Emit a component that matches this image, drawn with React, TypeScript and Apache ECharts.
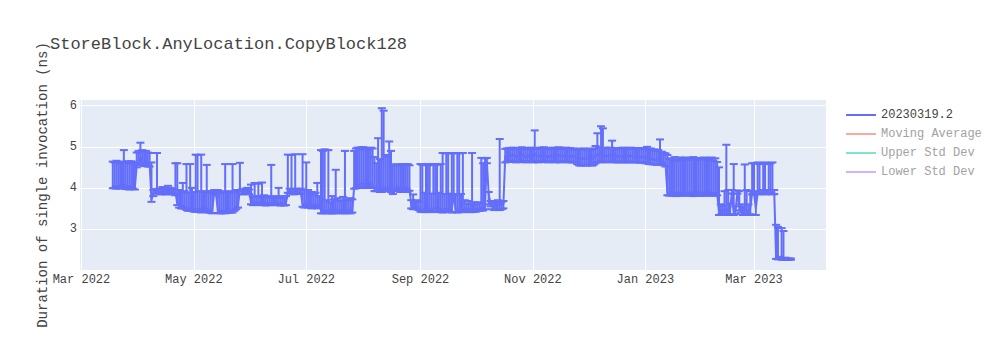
import { useEffect, useRef } from "react";
import * as echarts from "echarts";

const FONT = "'Courier New', 'Liberation Mono', monospace";
const BLUE = "#636EFA";

const dates = [
  "2022-03-18","2022-03-19","2022-03-20","2022-03-21","2022-03-22","2022-03-23","2022-03-24","2022-03-25","2022-03-26","2022-03-27","2022-03-28","2022-03-29","2022-03-30","2022-03-31",
  "2022-04-01","2022-04-02","2022-04-03","2022-04-04","2022-04-05","2022-04-06","2022-04-07","2022-04-08","2022-04-09","2022-04-10",
  "2022-04-11","2022-04-12","2022-04-13","2022-04-14","2022-04-15","2022-04-16","2022-04-17","2022-04-18","2022-04-19","2022-04-20",
  "2022-04-21","2022-04-22","2022-04-23","2022-04-24","2022-04-25","2022-04-26","2022-04-27","2022-04-28","2022-04-29","2022-04-30",
  "2022-05-01","2022-05-02","2022-05-03","2022-05-04","2022-05-05","2022-05-06","2022-05-07","2022-05-08","2022-05-09","2022-05-10",
  "2022-05-11","2022-05-12","2022-05-13","2022-05-14","2022-05-15","2022-05-16","2022-05-17","2022-05-18","2022-05-19","2022-05-20",
  "2022-05-21","2022-05-22","2022-05-23","2022-05-24","2022-05-25","2022-05-26","2022-05-27","2022-05-28","2022-05-29","2022-05-30","2022-05-31",
  "2022-06-01","2022-06-02","2022-06-03","2022-06-04","2022-06-05","2022-06-06","2022-06-07","2022-06-08","2022-06-09","2022-06-10",
  "2022-06-11","2022-06-12","2022-06-13","2022-06-14","2022-06-15","2022-06-16","2022-06-17","2022-06-18","2022-06-19","2022-06-20",
  "2022-06-21","2022-06-22","2022-06-23","2022-06-24","2022-06-25","2022-06-26","2022-06-27","2022-06-28","2022-06-29","2022-06-30",
  "2022-07-01","2022-07-02","2022-07-03","2022-07-04","2022-07-05","2022-07-06","2022-07-07","2022-07-08","2022-07-09","2022-07-10",
  "2022-07-11","2022-07-12","2022-07-13","2022-07-14","2022-07-15","2022-07-16","2022-07-17","2022-07-18","2022-07-19","2022-07-20",
  "2022-07-21","2022-07-22","2022-07-23","2022-07-24","2022-07-25","2022-07-26","2022-07-27","2022-07-28","2022-07-29","2022-07-30","2022-07-31",
  "2022-08-01","2022-08-02","2022-08-03","2022-08-04","2022-08-05","2022-08-06","2022-08-07","2022-08-08","2022-08-09","2022-08-10",
  "2022-08-11","2022-08-12","2022-08-13","2022-08-14","2022-08-15","2022-08-16","2022-08-17","2022-08-18","2022-08-19","2022-08-20",
  "2022-08-21","2022-08-22","2022-08-23","2022-08-24","2022-08-25","2022-08-26","2022-08-27","2022-08-28","2022-08-29","2022-08-30","2022-08-31",
  "2022-09-01","2022-09-02","2022-09-03","2022-09-04","2022-09-05","2022-09-06","2022-09-07","2022-09-08","2022-09-09","2022-09-10",
  "2022-09-11","2022-09-12","2022-09-13","2022-09-14","2022-09-15","2022-09-16","2022-09-17","2022-09-18","2022-09-19","2022-09-20",
  "2022-09-21","2022-09-22","2022-09-23","2022-09-24","2022-09-25","2022-09-26","2022-09-27","2022-09-28","2022-09-29","2022-09-30",
  "2022-10-01","2022-10-02","2022-10-03","2022-10-04","2022-10-05","2022-10-06","2022-10-07","2022-10-08","2022-10-09","2022-10-10",
  "2022-10-11","2022-10-12","2022-10-13","2022-10-14","2022-10-15","2022-10-16","2022-10-17","2022-10-18","2022-10-19","2022-10-20",
  "2022-10-21","2022-10-22","2022-10-23","2022-10-24","2022-10-25","2022-10-26","2022-10-27","2022-10-28","2022-10-29","2022-10-30","2022-10-31",
  "2022-11-01","2022-11-02","2022-11-03","2022-11-04","2022-11-05","2022-11-06","2022-11-07","2022-11-08","2022-11-09","2022-11-10",
  "2022-11-11","2022-11-12","2022-11-13","2022-11-14","2022-11-15","2022-11-16","2022-11-17","2022-11-18","2022-11-19","2022-11-20",
  "2022-11-21","2022-11-22","2022-11-23","2022-11-24","2022-11-25","2022-11-26","2022-11-27","2022-11-28","2022-11-29","2022-11-30",
  "2022-12-01","2022-12-02","2022-12-03","2022-12-04","2022-12-05","2022-12-06","2022-12-07","2022-12-08","2022-12-09","2022-12-10",
  "2022-12-11","2022-12-12","2022-12-13","2022-12-14","2022-12-15","2022-12-16","2022-12-17","2022-12-18","2022-12-19","2022-12-20",
  "2022-12-21","2022-12-22","2022-12-23","2022-12-24","2022-12-25","2022-12-26","2022-12-27","2022-12-28","2022-12-29","2022-12-30","2022-12-31",
  "2023-01-01","2023-01-02","2023-01-03","2023-01-04","2023-01-05","2023-01-06","2023-01-07","2023-01-08","2023-01-09","2023-01-10",
  "2023-01-11","2023-01-12","2023-01-13","2023-01-14","2023-01-15","2023-01-16","2023-01-17","2023-01-18","2023-01-19","2023-01-20",
  "2023-01-21","2023-01-22","2023-01-23","2023-01-24","2023-01-25","2023-01-26","2023-01-27","2023-01-28","2023-01-29","2023-01-30","2023-01-31",
  "2023-02-01","2023-02-02","2023-02-03","2023-02-04","2023-02-05","2023-02-06","2023-02-07","2023-02-08","2023-02-09","2023-02-10",
  "2023-02-11","2023-02-12","2023-02-13","2023-02-14","2023-02-15","2023-02-16","2023-02-17","2023-02-18","2023-02-19","2023-02-20",
  "2023-02-21","2023-02-22","2023-02-23","2023-02-24","2023-02-25","2023-02-26","2023-02-27","2023-02-28",
  "2023-03-01","2023-03-02","2023-03-03","2023-03-04","2023-03-05","2023-03-06","2023-03-07","2023-03-08","2023-03-09","2023-03-10",
  "2023-03-11","2023-03-12","2023-03-13","2023-03-14","2023-03-15","2023-03-16","2023-03-17","2023-03-18","2023-03-19","2023-03-20","2023-03-21",
];

const values = [
  // Mar 2022 (18-31)
  4.03,4.05,4.02,4.06,4.04,4.06,4.08,4.03,4.05,4.02,4.04,4.03,4.02,4.55,
  // Apr
  4.62,4.75,4.63,4.60,4.64,4.60,4.58,3.72,3.85,3.90,
  3.92,3.90,3.88,3.92,3.90,3.88,3.93,3.90,3.92,3.88,
  3.90,3.62,3.58,3.55,3.56,3.54,3.52,3.50,3.52,3.48,
  // May
  3.47,3.48,3.48,3.50,3.46,3.52,3.48,3.50,3.46,3.45,
  3.44,3.88,3.86,3.46,3.45,3.44,3.46,3.44,3.45,3.48,
  3.46,3.46,3.50,3.55,3.58,3.98,3.90,3.88,3.90,3.92,3.89,
  // Jun
  3.65,3.64,3.66,3.63,3.65,3.64,3.63,3.65,3.62,3.64,
  3.63,3.62,3.64,3.63,3.65,3.62,3.63,3.64,3.62,3.63,
  3.92,3.90,3.92,3.88,3.90,3.91,3.89,3.90,3.60,3.58,
  // Jul
  3.62,3.58,3.60,3.56,3.60,3.58,3.56,3.60,3.45,3.44,
  3.46,3.42,3.46,3.44,3.42,3.44,3.48,3.45,3.44,3.46,
  3.43,3.45,3.44,3.46,3.42,3.46,4.02,4.05,4.08,4.10,4.08,
  // Aug
  4.12,4.05,4.10,4.08,4.12,4.06,4.00,3.98,3.98,3.96,
  3.95,4.02,3.98,3.98,4.05,3.95,3.90,4.00,3.98,4.02,
  3.96,4.00,3.98,4.02,3.96,4.00,3.58,3.55,3.56,3.54,3.52,
  // Sep
  3.48,3.46,3.50,3.47,3.52,3.48,3.46,3.50,3.52,3.48,
  3.46,3.48,3.46,3.48,3.50,3.47,3.48,3.46,3.86,3.48,
  3.46,3.47,3.50,3.48,3.47,3.50,3.48,3.46,3.48,3.47,
  // Oct
  3.47,3.50,3.48,3.52,3.50,3.55,4.65,3.85,3.62,3.60,
  3.58,3.62,3.60,3.58,3.62,3.60,4.78,4.75,4.80,4.76,
  4.82,4.78,4.75,4.80,4.77,4.82,4.78,4.74,4.79,4.76,4.80,
  // Nov
  4.75,4.85,4.78,4.76,4.80,4.77,4.82,4.78,4.74,4.79,
  4.76,4.80,4.75,4.78,4.82,4.76,4.79,4.75,4.80,4.77,
  4.78,4.74,4.79,4.76,4.72,4.70,4.72,4.70,4.73,4.71,
  // Dec
  4.72,4.73,4.70,4.74,4.78,4.82,4.80,4.86,4.80,4.78,
  4.76,4.79,4.78,4.80,4.76,4.79,4.75,4.78,4.76,4.79,
  4.75,4.78,4.76,4.79,4.75,4.77,4.76,4.78,4.74,4.77,4.75,
  // Jan 2023
  4.72,4.74,4.70,4.72,4.68,4.70,4.66,4.70,4.72,4.65,
  4.62,4.58,3.88,3.86,3.90,3.87,3.88,3.86,3.90,3.87,
  3.88,3.86,3.89,3.87,3.90,3.88,3.86,3.89,3.87,3.90,3.88,
  // Feb
  3.87,3.89,3.86,3.88,3.90,3.87,3.88,3.86,3.88,3.40,
  3.45,3.42,3.48,3.42,3.50,3.44,3.90,3.42,3.46,3.90,
  3.55,3.50,3.42,3.48,3.45,3.40,3.50,3.88,
  // Mar (1-21)
  3.88,3.50,3.87,3.90,3.88,3.89,3.87,3.90,3.88,3.89,
  3.87,3.88,2.30,2.28,2.29,2.27,2.28,2.27,2.26,2.26,2.26,
];

const lows = [
  // Mar 2022
  3.99,4.00,3.98,4.00,3.98,4.00,4.01,3.97,3.99,3.96,3.97,3.98,3.96,4.50,
  // Apr
  4.55,4.58,4.56,4.53,4.56,4.52,4.52,3.66,3.80,3.86,
  3.88,3.86,3.84,3.87,3.86,3.84,3.86,3.85,3.87,3.84,
  3.82,3.58,3.52,3.50,3.50,3.50,3.46,3.44,3.46,3.44,
  // May
  3.42,3.42,3.42,3.43,3.40,3.46,3.42,3.44,3.40,3.39,
  3.38,3.84,3.82,3.39,3.38,3.38,3.40,3.38,3.39,3.40,
  3.40,3.40,3.44,3.48,3.52,3.93,3.85,3.84,3.85,3.87,3.85,
  // Jun
  3.60,3.58,3.60,3.58,3.60,3.59,3.58,3.60,3.57,3.59,
  3.58,3.58,3.59,3.58,3.60,3.58,3.57,3.59,3.57,3.58,
  3.88,3.86,3.87,3.84,3.86,3.86,3.85,3.86,3.54,3.52,
  // Jul
  3.56,3.52,3.54,3.50,3.54,3.52,3.50,3.54,3.38,3.38,
  3.39,3.38,3.40,3.38,3.38,3.38,3.40,3.39,3.38,3.40,
  3.38,3.39,3.38,3.40,3.38,3.40,3.98,3.99,4.00,4.01,4.00,
  // Aug
  4.02,4.00,4.01,4.00,4.02,4.00,3.92,3.92,3.92,3.90,
  3.90,3.94,3.92,3.92,3.96,3.90,3.85,3.94,3.92,3.95,
  3.90,3.93,3.92,3.95,3.90,3.93,3.50,3.48,3.50,3.48,3.46,
  // Sep
  3.42,3.41,3.42,3.41,3.43,3.42,3.41,3.42,3.43,3.42,
  3.41,3.42,3.40,3.41,3.42,3.41,3.42,3.40,3.82,3.41,
  3.40,3.41,3.42,3.41,3.41,3.42,3.42,3.41,3.41,3.42,
  // Oct
  3.42,3.45,3.44,3.45,3.45,3.48,4.60,3.60,3.55,3.48,
  3.46,3.48,3.46,3.46,3.48,3.50,4.62,4.64,4.65,4.63,
  4.66,4.64,4.62,4.65,4.63,4.66,4.64,4.62,4.64,4.63,4.65,
  // Nov
  4.62,4.66,4.64,4.62,4.65,4.63,4.66,4.64,4.62,4.64,
  4.63,4.65,4.62,4.64,4.66,4.62,4.64,4.63,4.65,4.62,
  4.64,4.62,4.64,4.62,4.58,4.55,4.54,4.55,4.56,4.54,
  // Dec
  4.55,4.56,4.54,4.56,4.60,4.63,4.62,4.65,4.64,4.63,
  4.62,4.64,4.63,4.64,4.62,4.64,4.62,4.63,4.62,4.64,
  4.62,4.63,4.62,4.64,4.62,4.63,4.62,4.63,4.61,4.63,4.62,
  // Jan 2023
  4.60,4.60,4.58,4.59,4.57,4.58,4.56,4.58,4.58,4.56,
  4.55,4.52,3.82,3.81,3.83,3.81,3.82,3.80,3.82,3.81,
  3.82,3.81,3.83,3.81,3.82,3.82,3.80,3.83,3.81,3.82,3.81,
  // Feb
  3.81,3.83,3.81,3.82,3.82,3.81,3.82,3.81,3.82,3.34,
  3.35,3.34,3.36,3.34,3.36,3.35,3.86,3.34,3.36,3.86,
  3.45,3.40,3.34,3.36,3.35,3.34,3.36,3.84,
  // Mar
  3.84,3.34,3.84,3.86,3.85,3.86,3.84,3.86,3.85,3.86,
  3.84,3.85,2.27,2.26,2.27,2.25,2.26,2.25,2.25,2.25,2.25,
];

const highs = [
  // Mar 2022
  4.64,4.62,4.66,4.63,4.60,4.64,4.92,4.62,4.65,4.60,4.65,4.63,4.62,4.86,
  // Apr
  4.90,5.10,4.92,4.88,4.90,4.86,4.85,4.62,3.95,3.97,
  4.85,3.98,3.96,4.02,3.98,3.96,4.05,4.00,3.98,3.96,
  4.60,4.60,3.95,3.90,4.12,3.92,4.58,3.88,4.58,4.00,
  // May
  3.90,4.81,4.80,3.92,4.81,3.90,3.92,4.56,3.88,3.92,
  3.88,3.95,3.94,3.95,3.90,3.92,3.88,4.58,3.90,3.92,
  3.88,4.58,3.90,3.95,3.92,4.61,3.96,3.95,3.98,4.00,3.96,
  // Jun
  4.08,3.80,4.12,3.78,4.10,3.80,4.13,3.82,3.78,3.80,
  3.76,4.56,3.78,3.80,3.75,4.00,3.78,3.80,3.75,3.80,
  4.81,3.98,4.80,3.96,4.82,3.98,3.96,3.98,4.82,3.95,
  // Jul
  4.62,3.95,3.85,3.90,3.82,3.88,4.12,3.80,4.92,4.90,
  4.94,3.70,4.92,3.65,3.80,3.72,4.44,3.75,3.70,3.68,
  3.78,4.90,3.72,3.70,3.75,3.72,4.90,4.96,4.98,4.93,4.99,
  // Aug
  4.99,4.95,4.97,4.94,4.98,4.96,4.75,4.60,5.21,4.70,
  5.94,5.88,4.80,4.75,5.13,4.90,4.57,4.57,4.55,4.57,
  4.56,4.58,4.56,4.57,4.58,4.55,3.70,3.84,3.65,3.70,3.66,
  // Sep
  4.58,4.56,3.88,4.58,4.55,4.57,3.86,4.58,4.56,4.57,
  3.88,4.58,4.85,3.85,4.84,4.85,3.86,4.84,4.85,3.85,
  4.85,4.84,3.85,4.85,3.70,3.62,3.68,3.60,4.85,3.65,
  // Oct
  3.60,3.65,3.62,4.73,4.60,4.72,4.73,3.90,3.68,3.66,
  3.68,3.66,3.70,5.19,3.66,3.68,4.95,4.96,4.97,4.95,
  4.98,4.96,4.94,4.97,4.96,4.99,4.97,4.94,4.97,4.95,4.98,
  // Nov
  4.96,5.40,4.96,4.95,4.98,4.96,4.99,4.97,4.94,4.97,
  4.95,4.98,4.96,4.97,4.99,4.95,4.97,4.96,4.98,4.95,
  4.97,4.94,4.96,4.95,4.93,4.95,4.94,4.96,4.95,4.93,
  // Dec
  4.94,4.96,4.93,4.95,5.02,5.33,4.98,5.50,5.45,4.98,
  4.96,4.97,4.98,5.15,4.96,4.97,4.95,4.97,4.96,4.98,
  4.95,4.97,4.96,4.98,4.96,4.97,4.95,4.97,4.95,4.96,4.97,
  // Jan 2023
  4.95,5.00,4.93,4.96,4.92,4.94,4.90,4.92,5.18,4.88,
  4.85,4.84,4.80,4.70,4.72,4.68,4.75,4.70,4.66,4.74,
  4.72,4.70,4.74,4.68,4.72,4.70,4.75,4.72,4.68,4.73,4.70,
  // Feb
  4.70,4.74,4.68,4.72,4.70,4.74,4.66,4.72,4.63,4.50,
  3.60,3.56,3.92,5.05,3.95,3.62,3.95,4.58,3.55,3.94,
  3.92,3.60,3.55,4.57,3.95,3.60,3.92,4.60,
  // Mar
  4.60,3.92,4.62,4.58,3.95,4.60,4.62,3.95,4.58,4.60,
  4.62,3.95,3.10,3.05,2.32,3.02,2.95,2.30,2.28,2.28,2.28,
];

const xTickDates = ["2022-03-01", "2022-05-01", "2022-07-01", "2022-09-01", "2022-11-01", "2023-01-01", "2023-03-01"];
const yTicks = [3, 4, 5, 6];
const monthNames = ["Jan", "Feb", "Mar", "Apr", "May", "Jun", "Jul", "Aug", "Sep", "Oct", "Nov", "Dec"];
const seriesName = "20230319.2";
const hiddenNames = ["Moving Average", "Upper Std Dev", "Lower Std Dev"];
const hiddenColors = ["#F7AA9D", "#80E6CB", "#D5B1FD"];

function toTime(s: string): number {
  const [y, m, d] = s.split("-").map(Number);
  return new Date(y, m - 1, d).getTime();
}

export default function App() {
  const ref = useRef<HTMLDivElement>(null);
  useEffect(() => {
    if (!ref.current) return;
    const chart = echarts.init(ref.current, undefined, { renderer: "svg" });
    const n = Math.min(dates.length, values.length, lows.length, highs.length);
    const xTicks = xTickDates.map(toTime);
    const xMin = new Date(2022, 1, 28, 5).getTime();
    const xMax = new Date(2023, 3, 9, 2).getTime();
    const lineData: number[][] = [];
    const errData: number[][] = [];
    for (let i = 0; i < n; i++) {
      const t = toTime(dates[i]);
      lineData.push([t, values[i]]);
      errData.push([t, lows[i], highs[i]]);
    }

    const option: any = {
      animation: false,
      backgroundColor: "#ffffff",
      textStyle: { fontFamily: FONT },
      title: {
        text: "StoreBlock.AnyLocation.CopyBlock128",
        left: 50,
        top: 36,
        padding: 0,
        textStyle: { fontFamily: FONT, fontSize: 17, fontWeight: "normal", color: "#444" },
      },
      legend: {
        orient: "vertical",
        left: 846,
        top: 109,
        padding: 0,
        icon: "rect",
        itemWidth: 30,
        itemHeight: 2,
        itemGap: 7,
        textStyle: { fontFamily: FONT, fontSize: 12, color: "#444" },
        data: [
          { name: seriesName, itemStyle: { color: BLUE } },
          ...hiddenNames.map((nm, i) => ({
            name: nm,
            itemStyle: { color: hiddenColors[i] },
            textStyle: { color: "#A2A2A2" },
          })),
        ],
      },
      grid: {
        left: 80,
        right: 174,
        top: 100,
        bottom: 80,
        show: true,
        backgroundColor: "#E5ECF6",
        borderWidth: 0,
      },
      xAxis: {
        type: "value",
        min: xMin,
        max: xMax,
        axisLine: { show: false },
        axisTick: { show: false, customValues: xTicks },
        axisLabel: {
          customValues: xTicks,
          formatter: (v: number) => {
            const d = new Date(v);
            return monthNames[d.getMonth()] + " " + d.getFullYear();
          },
          color: "#444",
          fontSize: 12,
          fontFamily: FONT,
          margin: 4,
          hideOverlap: false,
        },
        splitLine: { show: true, lineStyle: { color: "#ffffff", width: 1 } },
      },
      yAxis: {
        type: "value",
        min: 2,
        max: 6.14,
        axisLine: { show: false },
        axisTick: { show: false, customValues: yTicks },
        axisLabel: { customValues: yTicks, color: "#444", fontSize: 12, fontFamily: FONT, margin: 3 },
        splitLine: { show: true, lineStyle: { color: "#ffffff", width: 1 } },
        name: "Duration of single invocation (ns)",
        nameLocation: "middle",
        nameRotate: 90,
        nameGap: 30,
        nameTextStyle: { fontFamily: FONT, fontSize: 14, color: "#444" },
      },
      series: [
        {
          name: seriesName,
          type: "custom",
          data: errData,
          encode: { x: 0, y: [1, 2] },
          itemStyle: { color: BLUE },
          renderItem: (_p: any, api: any) => {
            const x = api.value(0);
            const a = api.coord([x, api.value(1)]);
            const b = api.coord([x, api.value(2)]);
            const hw = 4;
            const style = { stroke: BLUE, lineWidth: 2 };
            return {
              type: "group",
              children: [
                { type: "line", shape: { x1: a[0], y1: a[1], x2: b[0], y2: b[1] }, style },
                { type: "line", shape: { x1: a[0] - hw, y1: a[1], x2: a[0] + hw, y2: a[1] }, style },
                { type: "line", shape: { x1: b[0] - hw, y1: b[1], x2: b[0] + hw, y2: b[1] }, style },
              ],
            };
          },
        },
        {
          name: seriesName,
          type: "line",
          data: lineData,
          symbol: "none",
          showSymbol: false,
          color: BLUE,
          lineStyle: { color: BLUE, width: 2 },
        },
        ...hiddenNames.map((nm, i) => ({
          name: nm,
          type: "line",
          data: [],
          symbol: "none",
          color: hiddenColors[i],
          lineStyle: { color: hiddenColors[i], width: 2 },
        })),
      ],
    };
    chart.setOption(option);
    return () => chart.dispose();
  }, []);
  return <div ref={ref} style={{ position: "fixed", left: 0, top: 0, width: 1000, height: 350 }} />;
}
